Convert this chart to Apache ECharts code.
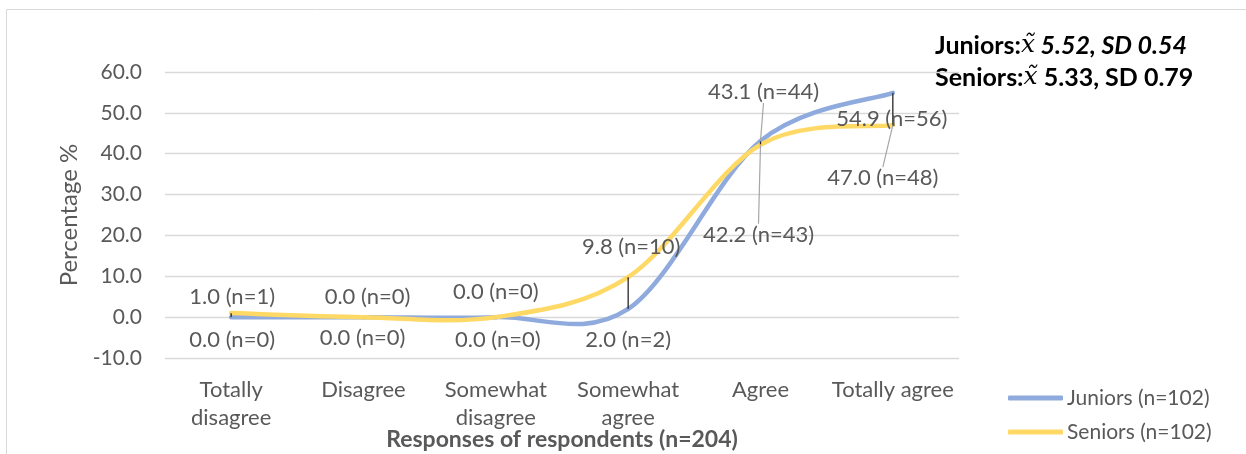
<!DOCTYPE html>
<html>
<head>
<meta charset="utf-8">
<script src="https://cdn.jsdelivr.net/npm/echarts@6/dist/echarts.min.js"></script>
<style>
  html, body { margin: 0; padding: 0; background: #fff; overflow: hidden; }
  #chart { width: 1246px; height: 454px; }
</style>
</head>
<body>
<div id="chart"></div>
<script>
// Response categories on the x axis
const categories = ['Totally\ndisagree', 'Disagree', 'Somewhat\ndisagree', 'Somewhat\nagree', 'Agree', 'Totally agree'];

// Share of respondents (%) and counts per answer
const juniorsPct = [0.0, 0.0, 0.0, 2.0, 43.1, 54.9];
const juniorsN   = [0, 0, 0, 2, 44, 56];
const seniorsPct = [1.0, 0.0, 0.0, 9.8, 42.2, 47.0];
const seniorsN   = [1, 0, 0, 10, 43, 48];

const seriesNames = ['Juniors (n=102)', 'Seniors (n=102)'];
const yTicks = { min: -10, max: 60, interval: 10 };

// Label offsets (px) from each point, per group
const labelShift = [
  [[1, 23], [-1, 21], [2, 23], [0, 31], [3, -49], [-1, 26]],
  [[1, -16], [4, -20], [0, -25], [3, -30], [-2, 90], [-10, 53]]
];
// Data points whose label gets a leader line
const leader = [
  [false, false, false, false, true, false],
  [false, false, false, false, true, true]
];

const FONT = 'Lato, "Open Sans", sans-serif';
const GREY = '#595959';
const BLUE = '#8FAADC';
const YELLOW = '#FFD966';

function buildData(pct, n, gi) {
  return pct.map((v, i) => ({
    value: v,
    label: { formatter: v.toFixed(1) + ' (n=' + n[i] + ')' },
    labelLine: { show: leader[gi][i], lineStyle: { color: '#a6a6a6', width: 1.2 } }
  }));
}

// Point series: carries the value labels and the legend entry
const labelSeries = (name, pct, n, gi, color) => ({
  name: name,
  type: 'line',
  data: buildData(pct, n, gi),
  symbol: 'circle',
  symbolSize: 1,
  showSymbol: true,
  itemStyle: { color: color },
  lineStyle: { color: color, width: 4.5, opacity: 0 },
  label: {
    show: true,
    position: 'inside',
    color: GREY,
    fontFamily: FONT,
    fontSize: 22
  },
  labelLine: { show: false },
  labelLayout: function (p) {
    const s = labelShift[gi][p.dataIndex];
    return { dx: s[0], dy: s[1] };
  },
  emphasis: { disabled: true },
  z: 8
});

// Smoothed curve (Catmull-Rom Bezier segments) through the values
const curveSeries = (pct, color, z) => ({
  type: 'custom',
  name: 'curve-' + color,
  data: pct.map((v, i) => [i, v]),
  encode: { x: 0, y: 1 },
  renderItem: function (params, api) {
    const i = params.dataIndex;
    if (i >= pct.length - 1) return null;
    const pt = j => api.coord([j, pct[Math.max(0, Math.min(pct.length - 1, j))]]);
    const p0 = pt(Math.max(0, i - 1)), p1 = pt(i), p2 = pt(i + 1), p3 = pt(Math.min(pct.length - 1, i + 2));
    return {
      type: 'bezierCurve',
      shape: {
        x1: p1[0], y1: p1[1],
        cpx1: p1[0] + (p2[0] - p0[0]) / 6, cpy1: p1[1] + (p2[1] - p0[1]) / 6,
        cpx2: p2[0] - (p3[0] - p1[0]) / 6, cpy2: p2[1] - (p3[1] - p1[1]) / 6,
        x2: p2[0], y2: p2[1]
      },
      style: { stroke: color, lineWidth: 4.5, fill: null, lineCap: 'round' }
    };
  },
  silent: true,
  clip: false,
  z: z
});

const chart = echarts.init(document.getElementById('chart'), null, { renderer: 'canvas' });

const option = {
  animation: false,
  backgroundColor: '#ffffff',
  textStyle: { fontFamily: FONT },
  grid: { left: 165, right: 287, top: 72, bottom: 96, containLabel: false, outerBoundsMode: 'none' },
  legend: {
    orient: 'vertical',
    left: 1003,
    top: 381,
    itemWidth: 55,
    itemHeight: 5,
    itemGap: 10,
    icon: 'roundRect',
    textStyle: { color: GREY, fontSize: 21, fontFamily: FONT, lineHeight: 24, padding: [0, 0, 0, -1] },
    data: [
      { name: seriesNames[0], itemStyle: { color: BLUE } },
      { name: seriesNames[1], itemStyle: { color: YELLOW } }
    ]
  },
  xAxis: {
    type: 'category',
    data: categories,
    boundaryGap: true,
    axisLine: { show: false },
    axisTick: { show: false },
    axisLabel: {
      color: GREY, fontSize: 22, fontFamily: FONT, lineHeight: 28, margin: 18,
      interval: 0
    },
    name: 'Responses of respondents (n=204)',
    nameLocation: 'middle',
    nameGap: 70,
    nameMoveOverlap: false,
    nameTextStyle: { color: GREY, fontSize: 23, fontWeight: 'bold', fontFamily: FONT }
  },
  yAxis: {
    type: 'value',
    min: yTicks.min,
    max: yTicks.max,
    interval: yTicks.interval,
    axisLine: { show: false },
    axisTick: { show: false },
    splitLine: { lineStyle: { color: '#d9d9d9', width: 1.3 } },
    axisLabel: {
      color: GREY, fontSize: 21, fontFamily: FONT, margin: 23,
      formatter: v => v.toFixed(1)
    },
    name: 'Percentage %',
    nameLocation: 'middle',
    nameGap: 84,
    nameMoveOverlap: false,
    nameRotate: 90,
    nameTextStyle: { color: GREY, fontSize: 24, fontFamily: FONT }
  },
  graphic: [
    {
      type: 'rect',
      shape: { x: 6.5, y: 9.5, width: 1300, height: 500 },
      style: { fill: 'none', stroke: '#d9d9d9', lineWidth: 1 },
      silent: true, z: -10
    },
    {
      type: 'text',
      left: 935,
      top: 33,
      style: {
        text: '{b|Juniors:}{m|x̃}{i| 5.52, SD 0.54}\n{b|Seniors:}{m|x̃}{b| 5.33, SD 0.79}',
        rich: {
          b: { fontFamily: FONT, fontSize: 25, fontWeight: 'bold', fill: '#000', lineHeight: 32 },
          i: { fontFamily: FONT, fontSize: 25, fontWeight: 'bold', fontStyle: 'italic', fill: '#000', lineHeight: 32 },
          m: { fontFamily: '"DejaVu Serif", serif', fontSize: 25, fontStyle: 'italic', fill: '#000', lineHeight: 32 }
        }
      }
    }
  ],
  series: [
    curveSeries(juniorsPct, BLUE, 3),
    curveSeries(seniorsPct, YELLOW, 4),
    {
      // High-low lines joining the two groups at each answer
      name: 'highlow',
      type: 'custom',
      data: juniorsPct.map((v, i) => [i, Math.min(v, seniorsPct[i]), Math.max(v, seniorsPct[i])]),
      encode: { x: 0, y: [1, 2] },
      renderItem: function (params, api) {
        const lo = api.coord([api.value(0), api.value(1)]);
        const hi = api.coord([api.value(0), api.value(2)]);
        return {
          type: 'line',
          shape: { x1: lo[0], y1: lo[1], x2: hi[0], y2: hi[1] },
          style: { stroke: '#262626', lineWidth: 1.3 }
        };
      },
      silent: true,
      z: 6
    },
    labelSeries(seriesNames[0], juniorsPct, juniorsN, 0, BLUE),
    labelSeries(seriesNames[1], seniorsPct, seniorsN, 1, YELLOW)
  ]
};

chart.setOption(option);
</script>
</body>
</html>
